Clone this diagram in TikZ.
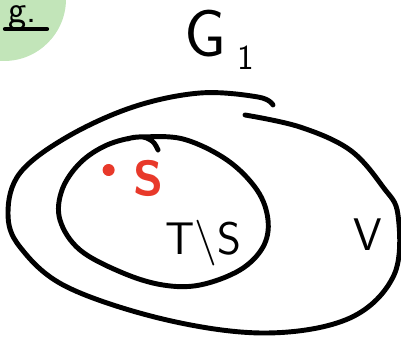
\documentclass[tikz,border=0pt]{standalone}
\usetikzlibrary{positioning}
\definecolor{leafgreen}{HTML}{C2E5B9}
\definecolor{penred}{HTML}{E8392A}
\begin{document}
\begin{tikzpicture}[x=0.02cm, y=-0.02cm,
  ring/.style={draw, line width=2.8pt, line cap=round, line join=round},
  lbl/.style={font=\sffamily\fontsize{26}{26}\selectfont, inner sep=0pt}
]
  \useasboundingbox (0,0) rectangle (401,337);
  % tag in the corner
  \begin{scope}
    \clip (0,0) rectangle (401,337);
    \fill[leafgreen] (4,-1) circle (62);
  \end{scope}
  \node[lbl, font=\sffamily\fontsize{22}{22}\selectfont, anchor=base west] (tag) at (8,23) {g.};
  \draw[line width=2.4pt, line cap=round] (tag.base west) ++(-3,6) coordinate (ul) -- ++(42,0) coordinate (ur);
  % outer set, drawn in one stroke with the ends crossing at the top
  \draw[ring] plot[smooth, tension=0.6] coordinates {
    (245,115) (300,127) (350,150) (383,187) (398,215) (394,275)
    (350,318) (267,333) (167,320) (67,287) (20,247) (8,213)
    (20,173) (67,137) (133,107) (200,93) (258,97) (273,105)};
  % inner set
  \draw[ring] plot[smooth, tension=0.6] coordinates {
    (158,150) (152,141) (138,137) (107,145) (80,163) (62,190)
    (60,220) (80,250) (123,273) (163,285) (200,285) (240,270)
    (263,247) (268,220) (257,190) (227,160) (183,139) (140,137) (128,139)};
  % labels
  \node[lbl, font=\sffamily\fontsize{38}{38}\selectfont] (G) at (205,34) {G};
  \node[lbl, font=\sffamily\fontsize{20}{20}\selectfont] (sub) at (246,58) {1};
  \node[lbl] (V) at (368,235) {V};
  \node[lbl, text=penred, font=\sffamily\bfseries\fontsize{28}{28}\selectfont] (S) at (149,178) {S};
  \fill[penred] (S.west) ++(-25,-8) coordinate (dot) circle (6);
  \node[lbl] (TS) at (203,243) {T\textbackslash S};
\end{tikzpicture}
\end{document}
